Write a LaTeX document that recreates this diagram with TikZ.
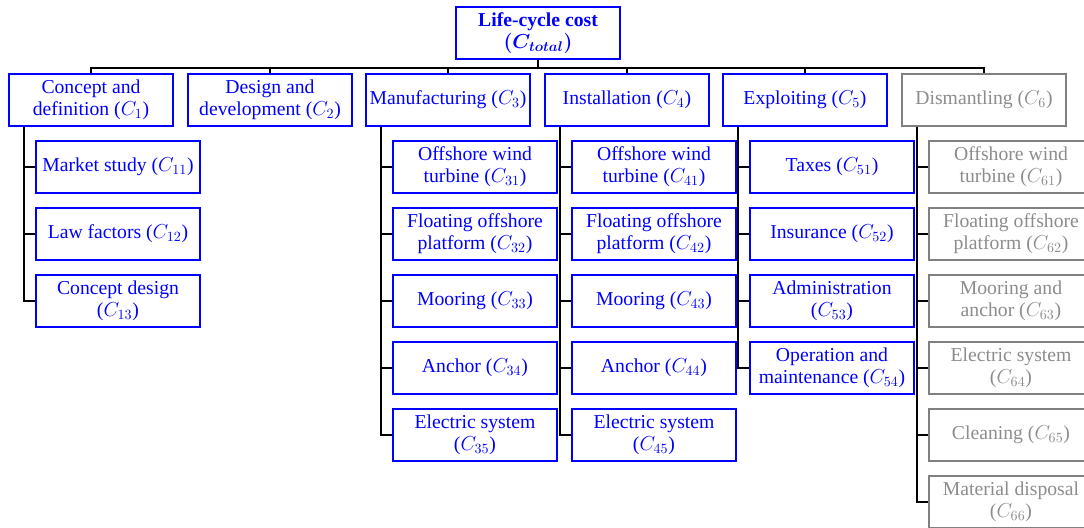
\documentclass[tikz,border=0pt]{standalone}
\usepackage{fontspec}
\setmainfont{Liberation Serif}
\definecolor{offgray}{RGB}{128,128,128}
\definecolor{offtext}{RGB}{140,140,140}
\tikzset{box/.style={draw=blue,text=blue,line width=1.3pt,minimum width=4.1cm,minimum height=1.3cm,
    align=center,inner xsep=1pt,inner ysep=1pt,font=\rmfamily\fontsize{14}{15.8}\selectfont},
  greybox/.style={box,draw=offgray,text=offtext},
  treeline/.style={draw=black,line width=2pt}}

\begin{document}
\begin{tikzpicture}[x=0.025cm,y=-0.025cm]
            \useasboundingbox (0,0) rectangle (1084,527);
            \node[box,font=\rmfamily\bfseries\fontsize{14}{15.8}\selectfont] (root) at (538,33) {Life-cycle cost\\{\boldmath$(C_{total})$}};

            \node[box] (c1) at (91,100) {Concept and\\definition ($C_1$)};
            \node[box] (c2) at (270,100) {Design and\\development ($C_2$)};
            \node[box] (c3) at (448,100) {Manufacturing ($C_3$)};
            \node[box] (c4) at (627,100) {Installation ($C_4$)};
            \node[box] (c5) at (805,100) {Exploiting ($C_5$)};
            \node[greybox] (c6) at (984,100) {Dismantling ($C_6$)};

            \node[box] (c11) at (118,167) {Market study ($C_{11}$)};
            \node[box] (c12) at (118,234) {Law factors ($C_{12}$)};
            \node[box] (c13) at (118,301) {Concept design\\($C_{13}$)};

            \node[box] (c31) at (475,167) {Offshore wind\\turbine ($C_{31}$)};
            \node[box] (c32) at (475,234) {Floating offshore\\platform ($C_{32}$)};
            \node[box] (c33) at (475,301) {Mooring ($C_{33}$)};
            \node[box] (c34) at (475,368) {Anchor ($C_{34}$)};
            \node[box] (c35) at (475,435) {Electric system\\($C_{35}$)};

            \node[box] (c41) at (654,167) {Offshore wind\\turbine ($C_{41}$)};
            \node[box] (c42) at (654,234) {Floating offshore\\platform ($C_{42}$)};
            \node[box] (c43) at (654,301) {Mooring ($C_{43}$)};
            \node[box] (c44) at (654,368) {Anchor ($C_{44}$)};
            \node[box] (c45) at (654,435) {Electric system\\($C_{45}$)};

            \node[box] (c51) at (832,167) {Taxes ($C_{51}$)};
            \node[box] (c52) at (832,234) {Insurance ($C_{52}$)};
            \node[box] (c53) at (832,301) {Administration\\($C_{53}$)};
            \node[box] (c54) at (832,368) {Operation and\\maintenance ($C_{54}$)};

            \node[greybox] (c61) at (1011,167) {Offshore wind\\turbine ($C_{61}$)};
            \node[greybox] (c62) at (1011,234) {Floating offshore\\platform ($C_{62}$)};
            \node[greybox] (c63) at (1011,301) {Mooring and\\anchor ($C_{63}$)};
            \node[greybox] (c64) at (1011,368) {Electric system\\($C_{64}$)};
            \node[greybox] (c65) at (1011,435) {Cleaning ($C_{65}$)};
            \node[greybox] (c66) at (1011,502) {Material disposal\\($C_{66}$)};

            \foreach \c in {1,...,6}
                \draw[treeline] (root.south) -- ++(0,8) -| (c\c.north);
            \foreach \p/\n in {1/3,3/5,4/5,5/4,6/6}
                \foreach \k in {1,...,\n}
                    \draw[treeline] (c\p.south west) ++(16,0) |- (c\p\k.west);
        \end{tikzpicture}
\end{document}
